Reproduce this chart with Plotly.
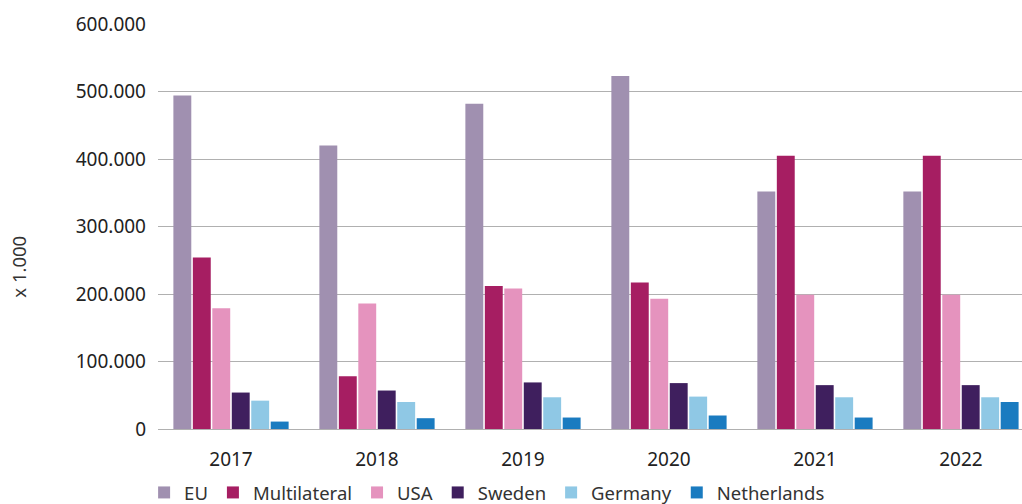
import plotly.graph_objects as go

years = ["2017", "2018", "2019", "2020", "2021", "2022"]
eu = [494000, 420000, 482000, 523000, 352000, 352000]
multilateral = [254000, 78000, 212000, 217000, 405000, 405000]
usa = [179000, 186000, 208000, 193000, 199000, 199000]
sweden = [54000, 57000, 69000, 68000, 65000, 65000]
germany = [42000, 40000, 47000, 48000, 47000, 47000]
netherlands = [11000, 16000, 17000, 20000, 17000, 40000]

series = [
    ("EU", eu, "#a090b0"),
    ("Multilateral", multilateral, "#a61e62"),
    ("USA", usa, "#e593be"),
    ("Sweden", sweden, "#3f1f5e"),
    ("Germany", germany, "#8fc8e5"),
    ("Netherlands", netherlands, "#1a7bc0"),
]

tickvals = [0, 100000, 200000, 300000, 400000, 500000, 600000]
ticktext = ["0", "100.000", "200.000", "300.000", "400.000", "500.000", "600.000"]

FONT = "Noto Sans"

fig = go.Figure()
for name, vals, color in series:
    fig.add_trace(go.Bar(name=name, x=years, y=vals, marker=dict(color=color, line=dict(width=0))))

fig.update_layout(
    width=1022, height=504,
    margin=dict(l=158, r=0, t=24, b=74.5, autoexpand=False),
    paper_bgcolor="white", plot_bgcolor="white",
    barmode="group", bargap=0.2, bargroupgap=0.08,
    font=dict(family=FONT, size=19, color="#222222"),
    showlegend=True,
    legend=dict(orientation="h", xref="container", yref="container",
                x=0.141, xanchor="left", y=0.022, yanchor="middle",
                font=dict(family=FONT, size=18.5, color="#333333"), itemwidth=30,
                tracegroupgap=0),
    xaxis=dict(type="category", range=[-0.5, 5.418], showgrid=False, showline=False,
               ticks="", ticklabelstandoff=17,
               tickfont=dict(family=FONT, size=19, color="#222222")),
    yaxis=dict(range=[0, 600000], tickvals=tickvals, ticktext=ticktext,
               showgrid=True, gridcolor="#b0b0b0", gridwidth=1.3,
               zeroline=True, zerolinecolor="#b0b0b0", zerolinewidth=1.3,
               showline=False, ticks="", ticklabelstandoff=11,
               tickfont=dict(family=FONT, size=19, color="#222222")),
)

fig.add_annotation(text="x 1.000", xref="paper", yref="paper",
                   x=(19 - 158) / 864, y=(429.5 - 267) / 405.5, textangle=-90, showarrow=False,
                   xanchor="center", yanchor="middle",
                   font=dict(family=FONT, size=18.5, color="#333333"))

fig.write_html("out.html", config={"displayModeBar": False},
               post_script="document.body.style.margin='0';document.body.style.overflow='hidden';")
